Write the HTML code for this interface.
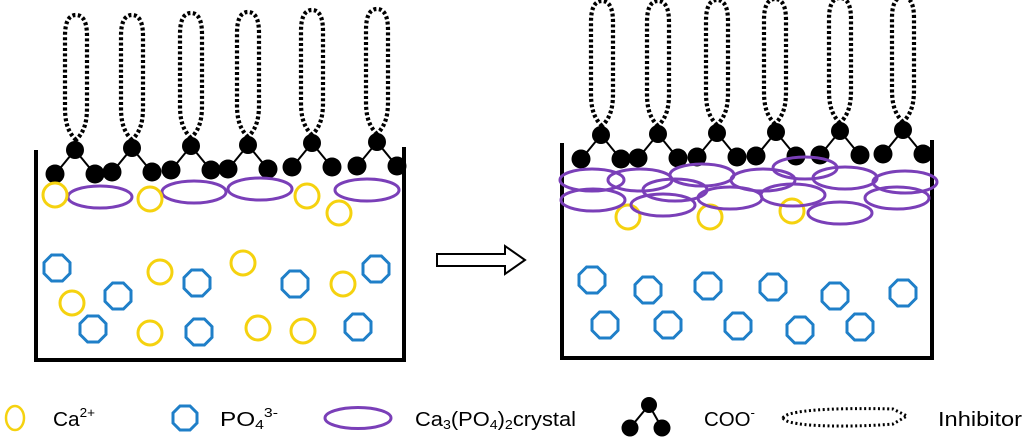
<!DOCTYPE html>
<html><head><meta charset="utf-8"><style>
html,body{margin:0;padding:0;background:#fff;width:1024px;height:438px;overflow:hidden}
svg{display:block}
text{font-family:"Liberation Sans",sans-serif;font-size:20px;fill:#000}
</style></head><body>
<svg width="1024" height="438" viewBox="0 0 1024 438" xmlns="http://www.w3.org/2000/svg">
<defs>
<g id="oct"><polygon points="-5.4,-13 5.4,-13 13,-5.4 13,5.4 5.4,13 -5.4,13 -13,5.4 -13,-5.4" fill="none" stroke="#1f7fc8" stroke-width="3"/></g>
<g id="ca"><circle r="12" fill="none" stroke="#f5d20f" stroke-width="3"/></g>
<g id="cr"><ellipse rx="32" ry="11" fill="none" stroke="#7a3fb8" stroke-width="3"/></g>
<g id="coo"><line x1="0" y1="0" x2="-18" y2="22" stroke="#000" stroke-width="2"/><line x1="0" y1="0" x2="18" y2="22" stroke="#000" stroke-width="2"/><circle r="9" fill="#000"/><circle cx="-20" cy="24" r="9.5" fill="#000"/><circle cx="20" cy="24" r="9.5" fill="#000"/></g>
<g id="inh"><path d="M0,-8 C-6,-14 -11,-22 -11,-40 L-11,-112 C-11,-128 -6,-133 0,-133 C6,-133 11,-128 11,-112 L11,-40 C11,-22 6,-14 0,-8 Z" fill="none" stroke="#000" stroke-width="4.2" stroke-dasharray="3 2.4"/></g>
</defs>
<g stroke="#000" stroke-width="4" fill="none"><path d="M36,150 V360 H404 V147"/></g>
<use href="#inh" x="76" y="148"/><use href="#inh" x="132" y="148"/><use href="#inh" x="191" y="146"/><use href="#inh" x="248" y="145"/><use href="#inh" x="312" y="143"/><use href="#inh" x="377" y="142"/>
<use href="#coo" x="75" y="150"/><use href="#coo" x="132" y="148"/><use href="#coo" x="191" y="146"/><use href="#coo" x="248" y="145"/><use href="#coo" x="312" y="143"/><use href="#coo" x="377" y="142"/>
<use href="#cr" x="100" y="197"/><use href="#cr" x="194" y="192"/><use href="#cr" x="260" y="189"/><use href="#cr" x="367" y="190"/>
<use href="#ca" x="55" y="195"/><use href="#ca" x="150" y="199"/><use href="#ca" x="307" y="196"/><use href="#ca" x="339" y="213"/>
<use href="#oct" x="57" y="268"/><use href="#oct" x="118" y="296"/><use href="#oct" x="197" y="283"/><use href="#oct" x="295" y="284"/><use href="#oct" x="376" y="269"/><use href="#oct" x="93" y="329"/><use href="#oct" x="199" y="332"/><use href="#oct" x="358" y="327"/>
<use href="#ca" x="160" y="272"/><use href="#ca" x="243" y="263"/><use href="#ca" x="72" y="303"/><use href="#ca" x="343" y="284"/><use href="#ca" x="150" y="333"/><use href="#ca" x="258" y="328"/><use href="#ca" x="303" y="331"/>
<path d="M437,254 H505 V246 L525,260 L505,274 V266 H437 Z" fill="#fff" stroke="#000" stroke-width="2"/>
<g stroke="#000" stroke-width="4" fill="none"><path d="M562,143 V358 H932 V140"/></g>
<use href="#inh" x="602" y="134"/><use href="#inh" x="658" y="134"/><use href="#inh" x="717" y="133"/><use href="#inh" x="775" y="132"/><use href="#inh" x="840" y="131"/><use href="#inh" x="903" y="130"/>
<use href="#coo" x="601" y="135"/><use href="#coo" x="658" y="134"/><use href="#coo" x="717" y="133"/><use href="#coo" x="776" y="132"/><use href="#coo" x="840" y="131"/><use href="#coo" x="903" y="130"/>
<use href="#ca" x="628" y="217"/><use href="#ca" x="710" y="217"/><use href="#ca" x="792" y="211"/>
<use href="#cr" x="592" y="180"/><use href="#cr" x="640" y="180"/><use href="#cr" x="702" y="175"/><use href="#cr" x="763" y="180"/><use href="#cr" x="805" y="168"/><use href="#cr" x="845" y="178"/><use href="#cr" x="905" y="182"/><use href="#cr" x="675" y="190"/><use href="#cr" x="593" y="200"/><use href="#cr" x="663" y="205"/><use href="#cr" x="730" y="198"/><use href="#cr" x="793" y="195"/><use href="#cr" x="840" y="213"/><use href="#cr" x="897" y="198"/>
<use href="#oct" x="592" y="280"/><use href="#oct" x="648" y="290"/><use href="#oct" x="708" y="286"/><use href="#oct" x="773" y="287"/><use href="#oct" x="835" y="296"/><use href="#oct" x="903" y="293"/><use href="#oct" x="605" y="325"/><use href="#oct" x="668" y="325"/><use href="#oct" x="738" y="326"/><use href="#oct" x="800" y="330"/><use href="#oct" x="860" y="327"/>
<ellipse cx="15" cy="418" rx="9" ry="12" fill="none" stroke="#f5d20f" stroke-width="2.5"/>
<text x="53" y="426" textLength="42" lengthAdjust="spacingAndGlyphs">Ca<tspan font-size="13" dy="-9">2+</tspan></text>
<polygon points="180,406 190,406 197,413 197,423 190,430 180,430 173,423 173,413" fill="none" stroke="#1f7fc8" stroke-width="3"/>
<text x="220" y="426" textLength="58" lengthAdjust="spacingAndGlyphs">PO<tspan font-size="13" dy="3">4</tspan><tspan font-size="13" dy="-12">3-</tspan></text>
<ellipse cx="358" cy="418" rx="33" ry="10.5" fill="none" stroke="#7a3fb8" stroke-width="3"/>
<text x="415" y="426" textLength="161" lengthAdjust="spacingAndGlyphs">Ca<tspan font-size="13" dy="3">3</tspan><tspan dy="-3">(PO</tspan><tspan font-size="13" dy="3">4</tspan><tspan dy="-3">)</tspan><tspan font-size="13" dy="3">2</tspan><tspan dy="-3">crystal</tspan></text>
<line x1="649" y1="405" x2="630" y2="428" stroke="#000" stroke-width="2"/><line x1="649" y1="405" x2="662" y2="428" stroke="#000" stroke-width="2"/>
<circle cx="649" cy="405" r="8" fill="#000"/><circle cx="630" cy="428" r="8.5" fill="#000"/><circle cx="662" cy="428" r="8.5" fill="#000"/>
<text x="704" y="426" textLength="51" lengthAdjust="spacingAndGlyphs">COO<tspan font-size="13" dy="-9">-</tspan></text>
<path d="M783,418 C787,408 860,408 893,409 L907,416 L893,424 C860,427 787,428 783,418 Z" fill="none" stroke="#000" stroke-width="3" stroke-dasharray="2 2.6"/>
<text x="938" y="426" textLength="84" lengthAdjust="spacingAndGlyphs">Inhibitor</text>
</svg>
</body></html>
